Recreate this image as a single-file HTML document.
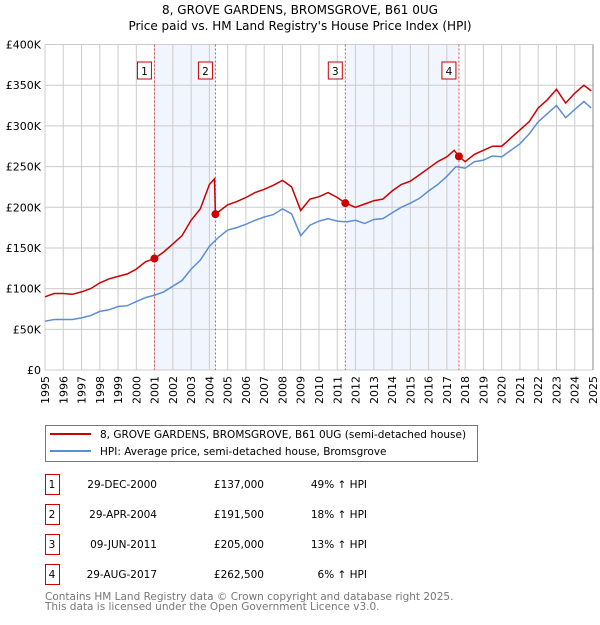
<!DOCTYPE html>
<html><head><meta charset="utf-8"><style>
body{margin:0;background:#fff;font-family:"Liberation Sans","DejaVu Sans",sans-serif;}
svg text{font-family:"DejaVu Sans","Liberation Sans",sans-serif;}
</style></head><body>
<svg width="600" height="620" viewBox="0 0 600 620" xmlns="http://www.w3.org/2000/svg">
<text x="300" y="14" text-anchor="middle" font-size="12">8, GROVE GARDENS, BROMSGROVE, B61 0UG</text>
<text x="300" y="30" text-anchor="middle" font-size="12">Price paid vs. HM Land Registry's House Price Index (HPI)</text>
<g id="plot"></g>
<g>
<rect x="45.5" y="425.5" width="432" height="36" fill="#fff" stroke="#777"/>
<line x1="50" y1="434" x2="91" y2="434" stroke="#cc0000" stroke-width="2"/>
<text x="100" y="438" font-size="10.5">8, GROVE GARDENS, BROMSGROVE, B61 0UG (semi-detached house)</text>
<line x1="50" y1="451" x2="91" y2="451" stroke="#5b8fd4" stroke-width="2"/>
<text x="100" y="455" font-size="10.5">HPI: Average price, semi-detached house, Bromsgrove</text>
</g>
<g id="table" font-size="10.5"></g>
<text x="45" y="600" font-size="10.5" fill="#777">Contains HM Land Registry data © Crown copyright and database right 2025.</text>
<text x="45" y="610" font-size="10.5" fill="#777">This data is licensed under the Open Government Licence v3.0.</text>
</svg>
<script>
const hpiYears=[1995,1995.5,1996,1996.5,1997,1997.5,1998,1998.5,1999,1999.5,2000,2000.5,2001,2001.5,2002,2002.5,2003,2003.5,2004,2004.5,2005,2005.5,2006,2006.5,2007,2007.5,2008,2008.5,2009,2009.5,2010,2010.5,2011,2011.5,2012,2012.5,2013,2013.5,2014,2014.5,2015,2015.5,2016,2016.5,2017,2017.5,2018,2018.5,2019,2019.5,2020,2020.5,2021,2021.5,2022,2022.5,2023,2023.5,2024,2024.5,2024.9];
const hpiValues=[60,62,62,62,64,67,72,74,78,79,84,89,92,96,103,110,124,135,152,163,172,175,179,184,188,191,198,192,165,178,183,186,183,182,184,180,185,186,193,200,205,211,220,228,238,250,248,256,258,263,262,270,278,290,305,315,325,310,320,330,322];
const ppYears=[1995,1995.5,1996,1996.5,1997,1997.5,1998,1998.5,1999,1999.5,2000,2000.5,2001,2001.5,2002,2002.5,2003,2003.5,2004,2004.28,2004.33,2005,2005.5,2006,2006.5,2007,2007.5,2008,2008.5,2009,2009.5,2010,2010.5,2011,2011.45,2012,2012.5,2013,2013.5,2014,2014.5,2015,2015.5,2016,2016.5,2017,2017.4,2017.66,2018,2018.5,2019,2019.5,2020,2020.5,2021,2021.5,2022,2022.5,2023,2023.5,2024,2024.5,2024.9];
const ppValues=[90,94,94,93,96,100,107,112,115,118,124,133,137,145,155,165,184,198,228,235,191.5,203,207,212,218,222,227,233,225,196,210,213,218,212,205,200,204,208,210,220,228,232,240,248,256,262,270,262.5,256,265,270,275,275,285,295,305,322,332,345,328,340,350,343];
const saleYears=[2000.99,2004.33,2011.44,2017.66];
const saleValues=[137,191.5,205,262.5];
const saleLabels=["1","2","3","4"];
const saleDates=["29-DEC-2000","29-APR-2004","09-JUN-2011","29-AUG-2017"];
const salePrices=["£137,000","£191,500","£205,000","£262,500"];
const saleHpi=["49% ↑ HPI","18% ↑ HPI","13% ↑ HPI","6% ↑ HPI"];
const yTicks=[0,50,100,150,200,250,300,350,400];
const yTickLabels=["£0","£50K","£100K","£150K","£200K","£250K","£300K","£350K","£400K"];
const xTicks=[];for(let y=1995;y<=2025;y++)xTicks.push(y);

const NS="http://www.w3.org/2000/svg";
const X0=45,X1=593,Y0=370,Y1=44.5;
const xs=v=>X0+(v-1995)/30*(X1-X0);
const ys=v=>Y0-v/400*(Y0-Y1);
const plot=document.getElementById('plot');
function mk(tag,attrs,parent){const e=document.createElementNS(NS,tag);for(const k in attrs)e.setAttribute(k,attrs[k]);(parent||plot).appendChild(e);return e;}
// shaded spans
for(let i=0;i<4;i+=2){
 const r=mk('rect',{x:xs(saleYears[i]),y:Y1,width:xs(saleYears[i+1])-xs(saleYears[i]),height:Y0-Y1,fill:'#eef3fd',opacity:0.8});
 
 
}
// grid
xTicks.forEach(t=>{
 const l=mk('line',{x1:xs(t),x2:xs(t),y1:Y1,y2:Y0,stroke:'#ccc','stroke-width':1});
 
 
 const tx=mk('text',{x:0,y:0,'font-size':11,'text-anchor':'end',transform:`translate(${xs(t)+4},${Y0+6}) rotate(-90)`});
 tx.textContent=t;
 
 
});
yTicks.forEach((t,i)=>{
 const l=mk('line',{x1:X0,x2:X1,y1:ys(t),y2:ys(t),stroke:'#ccc','stroke-width':1});
 
 
 const tx=mk('text',{x:X0-4,y:ys(t)+4,'font-size':11,'text-anchor':'end'});
 tx.textContent=yTickLabels[i];
 
 
});
// sale vlines & labels
saleYears.forEach((s,i)=>{
 const l=mk('line',{x1:xs(s),x2:xs(s),y1:Y1,y2:Y0,stroke:'#e05050','stroke-width':1,'stroke-dasharray':'2,2'});
 
 
 const r=mk('rect',{x:xs(s)-17,y:62,width:14,height:17,fill:'#fff',stroke:'#cc0000'});
 
 
 const t=mk('text',{x:xs(s)-10,y:75,'font-size':10.5,'text-anchor':'middle'});
 t.textContent=saleLabels[i];
 
 
});
function path(xsArr,vs){return xsArr.map((y,i)=>(i?'L':'M')+xs(y).toFixed(1)+','+ys(vs[i]).toFixed(1)).join(' ');}
const hp=mk('path',{d:path(hpiYears,hpiValues),fill:'none',stroke:'#5b8fd4','stroke-width':1.5});


const pp=mk('path',{d:path(ppYears,ppValues),fill:'none',stroke:'#cc0000','stroke-width':1.5});


saleYears.forEach((s,i)=>{
 const c=mk('circle',{cx:xs(s),cy:ys(saleValues[i]),r:4,fill:'#cc0000'});
 
 
});
// axis right edge
const ax=mk('line',{x1:X1,x2:X1,y1:Y1,y2:Y0,stroke:'#888'});


// table
const tb=document.getElementById('table');
saleLabels.forEach((lab,i)=>{
 const y=483+i*30;
 const r=mk('rect',{x:45.5,y:y-8.5,width:14,height:20,fill:'#fff',stroke:'#cc0000'},tb);
 
 
 const cells=[[52,lab,'middle'],[157,saleDates[i],'end'],[264,salePrices[i],'end'],[367,saleHpi[i],'end']];
 cells.forEach((c,j)=>{
  const t=mk('text',{x:c[0],y:y+5,'text-anchor':c[2]},tb);
  t.textContent=c[1];
  
  
 });
});
</script>
</body></html>
